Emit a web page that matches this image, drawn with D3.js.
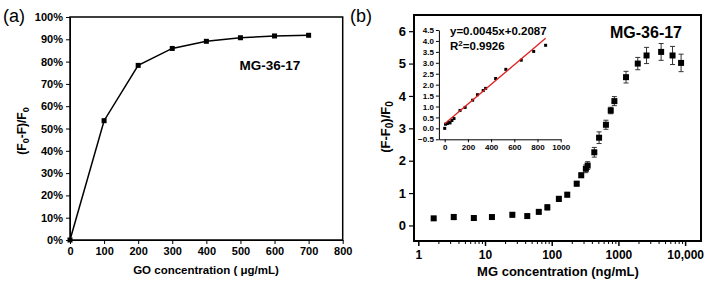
<!DOCTYPE html>
<html>
<head>
<meta charset="utf-8">
<script src="https://cdn.jsdelivr.net/npm/d3@7"></script>
<style>
  body { margin: 0; background: #fff; }
  svg { display: block; font-family: "Liberation Sans", Arial, sans-serif; }
  .axis path, .axis line { stroke: #000; }
  .axis text { fill: #000; font-weight: bold; }
</style>
</head>
<body>
<svg id="chart" width="711" height="286"></svg>
<script>
// panel (a): quenching vs GO concentration
var goConc = [0, 100, 200, 300, 400, 500, 600, 700];
var quench = [0, 0.535, 0.783, 0.859, 0.891, 0.907, 0.915, 0.918];
var goTicks = [0, 100, 200, 300, 400, 500, 600, 700, 800];
var pctTicks = [0, 0.1, 0.2, 0.3, 0.4, 0.5, 0.6, 0.7, 0.8, 0.9, 1.0];

// panel (b): response vs MG concentration (log)
var mgConc = [1.7, 3.4, 6.8, 12.7, 25.7, 43, 64, 86, 128, 171, 237, 277, 325, 346, 435, 513, 650, 767, 870, 1300, 1950, 2640, 4370, 6480, 8700];
var mgRatio = [0.22, 0.26, 0.23, 0.26, 0.33, 0.29, 0.42, 0.56, 0.82, 0.95, 1.29, 1.55, 1.75, 1.85, 2.26, 2.71, 3.11, 3.55, 3.84, 4.58, 5.0, 5.25, 5.36, 5.25, 5.02];
var mgErr = [0.04, 0.08, 0.04, 0.04, 0.07, 0.06, 0.06, 0.08, 0.08, 0.07, 0.07, 0.07, 0.12, 0.12, 0.15, 0.18, 0.14, 0.1, 0.14, 0.18, 0.19, 0.25, 0.26, 0.28, 0.27];
var logTicks = [1, 10, 100, 1000, 10000];
var logTickLabels = ["1", "10", "100", "1000", "10,000"];
var ratioTicks = [0, 1, 2, 3, 4, 5, 6];

// inset: linear range
var insetX = [0, 7, 23, 36, 46, 62, 80, 132, 176, 241, 283, 332, 353, 439, 527, 660, 767, 870];
var insetY = [0.0, 0.19, 0.22, 0.28, 0.25, 0.36, 0.45, 0.82, 0.96, 1.29, 1.54, 1.73, 1.83, 2.28, 2.70, 3.12, 3.52, 3.80];
var fitSlope = 0.0045, fitIntercept = 0.2087;
var fitRange = [0, 870];
var insetXTicks = [0, 200, 400, 600, 800, 1000];
var insetYTicks = [-0.5, 0, 0.5, 1, 1.5, 2, 2.5, 3, 3.5, 4, 4.5];

var svg = d3.select("#chart");

// ---------- panel (a) ----------
var xA = d3.scaleLinear().domain([0, 800]).range([70, 342.7]);
var yA = d3.scaleLinear().domain([0, 1]).range([240, 17]);

svg.append("g").attr("class", "axis")
  .attr("transform", "translate(0,240)")
  .call(d3.axisBottom(xA).tickValues(goTicks).tickFormat(d3.format("d")).tickSize(4).tickSizeOuter(0).tickPadding(3))
  .call(function(g) { g.selectAll("text").style("font-size", "11px"); });

svg.append("g").attr("class", "axis")
  .attr("transform", "translate(70,0)")
  .call(d3.axisLeft(yA).tickValues(pctTicks).tickFormat(d3.format(".0%")).tickSize(4).tickSizeOuter(0).tickPadding(3))
  .call(function(g) { g.selectAll("text").style("font-size", "11px"); });

svg.append("rect")
  .attr("x", xA(0)).attr("y", yA(1))
  .attr("width", xA(800) - xA(0)).attr("height", yA(0) - yA(1))
  .attr("fill", "none").attr("stroke", "#000").attr("stroke-width", 1.5);

var lineA = d3.line()
  .x(function(d, i) { return xA(goConc[i]); })
  .y(function(d) { return yA(d); });

svg.append("path").datum(quench)
  .attr("d", lineA)
  .attr("fill", "none").attr("stroke", "#000").attr("stroke-width", 1.5);

svg.selectAll("rect.ptA")
  .data(quench)
  .enter()
  .append("rect")
  .attr("class", "ptA")
  .attr("x", function(d, i) { return xA(goConc[i]) - 2.5; })
  .attr("y", function(d) { return yA(d) - 2.5; })
  .attr("width", 5).attr("height", 5)
  .attr("fill", "#000");

svg.append("text").attr("x", 270).attr("y", 70)
  .attr("text-anchor", "middle").style("font-size", "13.5px").style("font-weight", "bold")
  .text("MG-36-17");

svg.append("text").attr("x", 206).attr("y", 274)
  .attr("text-anchor", "middle").style("font-size", "11.5px").style("font-weight", "bold")
  .text("GO concentration ( μg/mL)");

var ylabA = svg.append("text")
  .attr("transform", "translate(26,131) rotate(-90)")
  .attr("text-anchor", "middle").style("font-size", "12px").style("font-weight", "bold");
ylabA.append("tspan").text("(F");
ylabA.append("tspan").attr("dy", 3).style("font-size", "9px").text("0");
ylabA.append("tspan").attr("dy", -3).text("-F)/F");
ylabA.append("tspan").attr("dy", 3).style("font-size", "9px").text("0");

svg.append("text").attr("x", 3).attr("y", 22).style("font-size", "18px").text("(a)");

// ---------- panel (b) ----------
var xB = d3.scaleLog().domain([0.862, 17300]).range([414, 701]);
var yB = d3.scaleLinear().domain([-0.48, 6.5]).range([241, 15]);

var minorTicks = [];
logTicks.concat([100000]).forEach(function(t) {
  for (var k = 2; k <= 9; k++) {
    var v = t * k;
    if (v < 17300) minorTicks.push(v);
  }
});

svg.append("g").attr("class", "axis")
  .attr("transform", "translate(0,241)")
  .call(d3.axisBottom(xB).tickValues(minorTicks).tickSize(3).tickSizeOuter(0).tickFormat(""))
  .call(function(g) { g.select(".domain").remove(); });

svg.append("g").attr("class", "axis")
  .attr("transform", "translate(0,241)")
  .call(d3.axisBottom(xB).tickValues(logTicks).tickSize(5).tickSizeOuter(0).tickPadding(4)
    .tickFormat(function(d, i) { return logTickLabels[i]; }))
  .call(function(g) { g.selectAll("text").style("font-size", "12px"); g.select(".domain").remove(); })
  .selectAll("line").attr("stroke-width", 1.5);

svg.append("g").attr("class", "axis")
  .attr("transform", "translate(414,0)")
  .call(d3.axisLeft(yB).tickValues(ratioTicks).tickFormat(d3.format("d")).tickSize(5).tickSizeOuter(0).tickPadding(3))
  .call(function(g) { g.selectAll("text").style("font-size", "13px"); g.select(".domain").remove(); })
  .selectAll("line").attr("stroke-width", 1.2);

svg.append("rect")
  .attr("x", 414).attr("y", 15)
  .attr("width", 701 - 414).attr("height", 241 - 15)
  .attr("fill", "none").attr("stroke", "#000").attr("stroke-width", 2);

// error bars
var eb = svg.selectAll("g.eb")
  .data(mgRatio)
  .enter()
  .append("g")
  .attr("class", "eb")
  .attr("stroke", "#333").attr("stroke-width", 1);
eb.append("line")
  .attr("x1", function(d, i) { return xB(mgConc[i]); })
  .attr("x2", function(d, i) { return xB(mgConc[i]); })
  .attr("y1", function(d, i) { return yB(d + mgErr[i]); })
  .attr("y2", function(d, i) { return yB(d - mgErr[i]); });
[1, -1].forEach(function(s) {
  eb.append("line")
    .attr("x1", function(d, i) { return xB(mgConc[i]) - 2.5; })
    .attr("x2", function(d, i) { return xB(mgConc[i]) + 2.5; })
    .attr("y1", function(d, i) { return yB(d + s * mgErr[i]); })
    .attr("y2", function(d, i) { return yB(d + s * mgErr[i]); });
});

svg.selectAll("rect.ptB")
  .data(mgRatio)
  .enter()
  .append("rect")
  .attr("class", "ptB")
  .attr("x", function(d, i) { return xB(mgConc[i]) - 3; })
  .attr("y", function(d) { return yB(d) - 3; })
  .attr("width", 6).attr("height", 6)
  .attr("fill", "#000");

svg.append("text").attr("x", 646).attr("y", 38)
  .attr("text-anchor", "middle").style("font-size", "16px").style("font-weight", "bold")
  .text("MG-36-17");

svg.append("text").attr("x", 558).attr("y", 276)
  .attr("text-anchor", "middle").style("font-size", "13px").style("font-weight", "bold")
  .text("MG concentration (ng/mL)");

var ylabB = svg.append("text")
  .attr("transform", "translate(390,127) rotate(-90)")
  .attr("text-anchor", "middle").style("font-size", "13px").style("font-weight", "bold");
ylabB.append("tspan").text("(F-F");
ylabB.append("tspan").attr("dy", 3).style("font-size", "10px").text("0");
ylabB.append("tspan").attr("dy", -3).text(")/F");
ylabB.append("tspan").attr("dy", 3).style("font-size", "10px").text("0");

svg.append("text").attr("x", 350).attr("y", 22).style("font-size", "18px").text("(b)");

// ---------- inset ----------
var xI = d3.scaleLinear().domain([-50, 1000]).range([438.9, 560.7]);
var yI = d3.scaleLinear().domain([-0.5, 4.5]).range([139.3, 30]);

svg.append("g").attr("class", "axis")
  .attr("transform", "translate(0,139.3)")
  .call(d3.axisBottom(xI).tickValues(insetXTicks).tickFormat(d3.format("d")).tickSize(3).tickSizeOuter(0).tickPadding(2))
  .call(function(g) { g.selectAll("text").style("font-size", "8px"); });

svg.append("g").attr("class", "axis")
  .attr("transform", "translate(438.9,0)")
  .call(d3.axisLeft(yI).tickValues(insetYTicks).tickFormat(d3.format(".1f")).tickSize(3).tickSizeOuter(0).tickPadding(2))
  .call(function(g) { g.selectAll("text").style("font-size", "8px"); });

svg.selectAll("rect.ptI")
  .data(insetY)
  .enter()
  .append("rect")
  .attr("class", "ptI")
  .attr("x", function(d, i) { return xI(insetX[i]) - 1.5; })
  .attr("y", function(d) { return yI(d) - 1.5; })
  .attr("width", 3).attr("height", 3)
  .attr("fill", "#000");

svg.append("line")
  .attr("x1", xI(fitRange[0])).attr("x2", xI(fitRange[1]))
  .attr("y1", yI(fitSlope * fitRange[0] + fitIntercept))
  .attr("y2", yI(fitSlope * fitRange[1] + fitIntercept))
  .attr("stroke", "#e02020").attr("stroke-width", 1.3);

svg.append("text").attr("x", 450).attr("y", 35)
  .style("font-size", "11.5px").style("font-weight", "bold")
  .text("y=0.0045x+0.2087");

var r2 = svg.append("text").attr("x", 450).attr("y", 50)
  .style("font-size", "11.5px").style("font-weight", "bold");
r2.append("tspan").text("R");
r2.append("tspan").attr("dy", -4).style("font-size", "8px").text("2");
r2.append("tspan").attr("dy", 4).text("=0.9926");
</script>
</body>
</html>
